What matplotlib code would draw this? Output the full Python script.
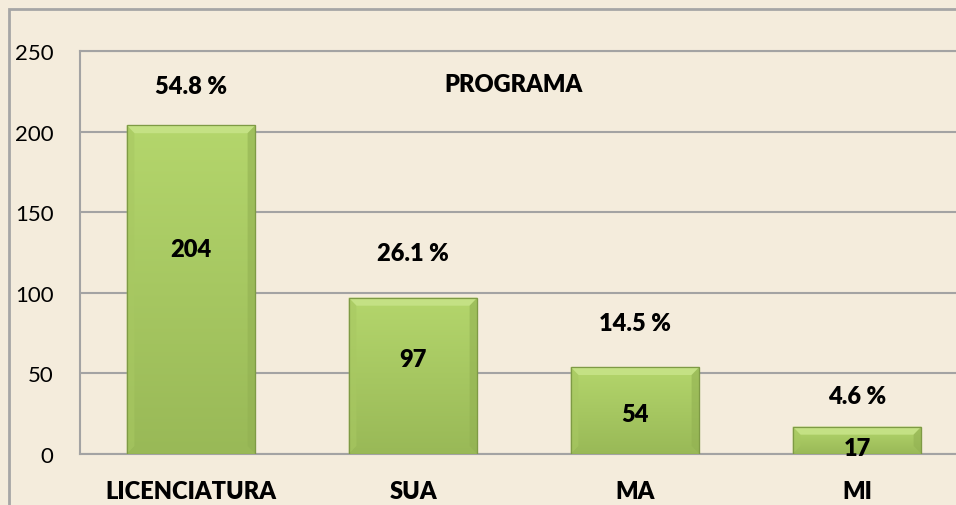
import matplotlib
matplotlib.use("Agg")
import matplotlib.pyplot as plt
import numpy as np
from matplotlib.colors import LinearSegmentedColormap
from matplotlib.patches import Rectangle, Polygon

plt.rcParams['font.family'] = ['Lato', 'DejaVu Sans']

# data
programas = ['LICENCIATURA', 'SUA', 'MA', 'MI']
alumnos = [204, 97, 54, 17]
porcentajes = ['54.8 %', '26.1 %', '14.5 %', '4.6 %']
yticks = [0, 50, 100, 150, 200, 250]

# layout of the hand placed labels (points above bar top / y inside bar)
pct_offset = [28, 32, 32, 22]
val_y = [127, 59, 25, 4]

bg = '#F4ECDC'
grid_c = '#A3A3A3'
fs = 17
fw = 'heavy'

fig = plt.figure(figsize=(9.56, 5.06), dpi=100, facecolor=bg)
ax = fig.add_axes([80 / 956, 1 - 455 / 506, 888 / 956, 403 / 506])
ax.set_facecolor(bg)

x = np.arange(len(programas))
bars = ax.bar(x, alumnos, width=0.58, color='#A8C961', edgecolor='#7E9A45',
              linewidth=0.8, zorder=3)

# vertical green gradient inside every bar
cmap = LinearSegmentedColormap.from_list('g', ['#99B957', '#B4D66C'])
grad = np.linspace(0, 1, 256).reshape(-1, 1)
for b in bars:
    x0, w, h = b.get_x(), b.get_width(), b.get_height()
    im = ax.imshow(grad, cmap=cmap, origin='lower', aspect='auto',
                   extent=(x0, x0 + w, 0, h), zorder=3.5)
    im.set_clip_path(b)
    # bevel: light top band and slightly darker sides
    bv = min(5.0, h * 0.3)
    bx = 0.035
    ax.add_patch(Polygon([(x0, h), (x0 + w, h), (x0 + w - bx, h - bv),
                          (x0 + bx, h - bv)], closed=True,
                         facecolor='#C4E184', edgecolor='none', zorder=3.6))
    ax.add_patch(Polygon([(x0, 0), (x0 + bx, bv), (x0 + bx, h - bv), (x0, h)],
                         closed=True, facecolor='#A8C862', alpha=0.6,
                         edgecolor='none', zorder=3.6))
    ax.add_patch(Polygon([(x0 + w, 0), (x0 + w - bx, bv),
                          (x0 + w - bx, h - bv), (x0 + w, h)], closed=True,
                         facecolor='#92B152', alpha=0.6, edgecolor='none',
                         zorder=3.6))
    ax.add_patch(Rectangle((x0, 0), w, h, facecolor='none',
                           edgecolor='#7E9A45', linewidth=0.9, zorder=3.7))

ax.set_xlim(-0.5, 3.5)
ax.set_ylim(0, 250)
ax.set_yticks(yticks)
ax.set_xticks(x)
ax.set_xticklabels(programas, fontweight=fw, fontsize=fs)
ax.tick_params(axis='x', length=0, pad=19)
ax.tick_params(axis='y', length=0, pad=19, labelsize=16)
ax.yaxis.grid(True, color=grid_c, linewidth=1.5, zorder=0)
ax.set_axisbelow(True)
for s in ['left', 'bottom', 'top', 'right']:
    ax.spines[s].set_color(grid_c)
    ax.spines[s].set_linewidth(1.5)

for b, p, off in zip(bars, porcentajes, pct_offset):
    ax.annotate(p, (b.get_x() + b.get_width() / 2, b.get_height()),
                xytext=(0, off), textcoords='offset points', ha='center',
                va='center', fontsize=fs, fontweight=fw, zorder=5)

for b, v, vy in zip(bars, alumnos, val_y):
    ax.text(b.get_x() + b.get_width() / 2, vy, str(v), ha='center',
            va='center', fontsize=fs, fontweight=fw, zorder=5)

fig.text(513 / 956, 1 - 85 / 506, 'PROGRAMA', ha='center', va='center',
         fontsize=fs, fontweight=fw)

# outer chart border, cut by the right and bottom image edges
fig.patches.append(Rectangle((9 / 956, -0.1), 1.2, 1 - 10 / 506 + 0.1,
                             transform=fig.transFigure, fill=False,
                             edgecolor='#A6A6A6', linewidth=2))

fig.savefig('out.png', dpi=100, facecolor=bg)
